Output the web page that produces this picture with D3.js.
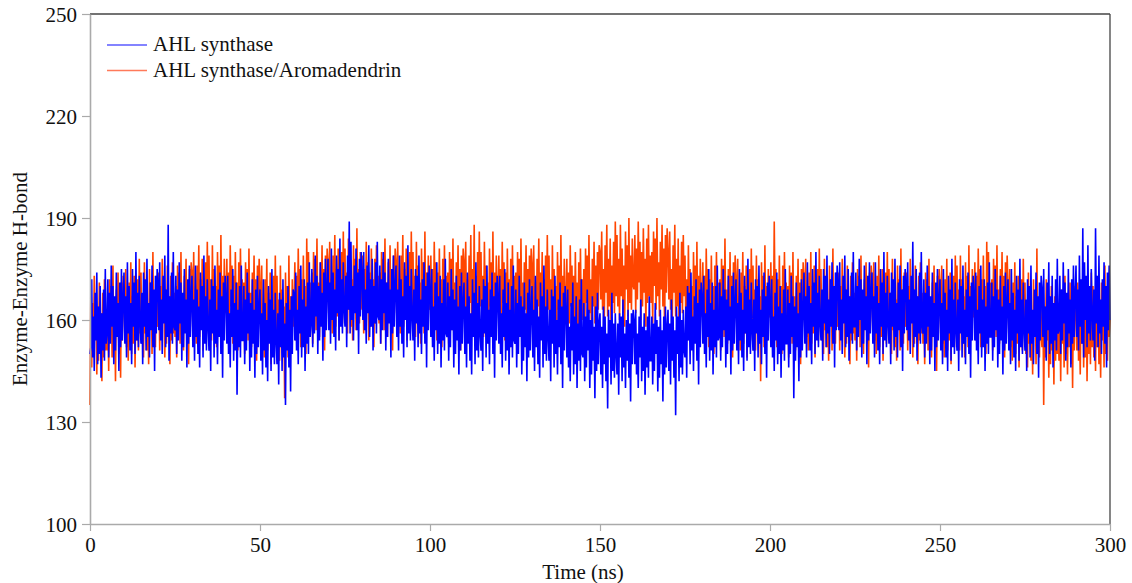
<!DOCTYPE html>
<html><head><meta charset="utf-8">
<script src="https://cdn.jsdelivr.net/npm/d3@7"></script>
<style>body{margin:0;background:#fff}svg{display:block}text{font-family:"Liberation Serif","Times New Roman",serif;fill:#111}</style>
</head><body><svg id="c" width="1132" height="583"></svg>
<script>
const seriesNames = ["AHL synthase", "AHL synthase/Aromadendrin"];
const timeStep = 0.25; // ns between samples
const xTicks = [0, 50, 100, 150, 200, 250, 300];
const yTicks = [100, 130, 160, 190, 220, 250];
const blueValues = [
150,152,172,149,161,145,168,154,174,147,164,150,170,143,162,151,169,148,175,153,
156,172,149,168,153,176,158,170,147,167,151,174,155,165,145,171,152,175,154,166,
174,153,167,149,177,156,170,151,165,147,175,158,171,150,180,154,168,152,173,159,
153,168,147,174,158,172,151,178,155,165,149,171,157,176,152,169,145,173,156,175,
171,157,177,154,166,150,173,159,179,152,169,155,188,148,167,156,174,153,180,158,
157,173,150,169,154,177,159,171,148,168,152,175,156,166,146,172,153,176,155,167,
173,152,166,148,176,155,169,150,164,146,174,157,170,149,179,153,167,151,172,158,
151,166,145,172,156,170,149,176,153,163,147,169,155,174,150,167,143,171,154,173,
167,153,173,150,162,146,169,155,175,148,165,151,171,138,163,152,170,149,176,154,
154,170,147,166,151,174,156,168,145,165,149,172,153,163,143,169,150,173,152,164,
169,148,162,144,172,151,165,146,160,142,170,153,166,145,175,149,163,147,168,154,
147,162,141,168,152,166,145,172,149,159,135,165,151,170,146,163,139,167,150,169,
168,154,174,151,163,147,170,156,176,149,166,152,172,145,164,153,171,150,177,155,
159,175,152,171,156,179,161,173,150,170,154,177,158,168,148,174,155,178,157,169,
178,157,171,153,181,160,174,155,169,151,179,162,175,154,184,158,172,156,177,163,
158,173,152,179,163,189,156,183,160,170,154,176,162,181,157,174,150,178,161,180,
174,160,180,157,169,153,176,162,182,155,172,158,178,151,170,159,177,156,183,161,
160,176,153,172,157,180,162,174,151,171,155,178,159,169,149,175,156,179,158,170,
176,155,169,151,179,158,172,153,167,149,177,160,173,152,182,156,170,154,175,161,
154,169,148,175,159,173,152,179,156,166,150,172,158,177,153,170,146,174,157,176,
169,155,175,152,164,148,171,157,177,150,167,153,173,146,165,154,172,151,178,156,
155,171,148,167,152,175,157,169,146,166,150,173,154,164,144,170,151,174,153,165,
171,150,164,146,174,153,167,148,162,144,172,155,168,147,177,151,165,149,170,156,
151,166,145,172,156,170,149,176,153,163,147,169,155,174,150,167,143,171,154,173,
167,153,173,150,162,146,169,155,175,148,165,151,171,144,163,152,170,149,176,154,
153,169,146,165,150,173,155,167,144,164,148,171,152,162,142,168,149,172,151,163,
170,149,163,145,173,152,166,147,161,143,171,154,167,146,176,150,164,148,169,155,
148,163,142,169,153,167,146,173,150,160,144,166,152,171,147,164,140,168,151,170,
163,149,169,146,158,142,165,151,171,144,161,147,167,140,159,148,166,145,172,150,
149,165,142,161,146,169,151,163,140,160,144,167,148,158,137,164,145,168,147,159,
162,144,158,140,164,147,161,142,156,134,163,149,160,141,168,145,159,143,162,150,
144,159,138,162,149,161,142,166,146,156,140,160,148,163,143,159,136,162,147,163,
160,147,163,144,156,140,161,149,166,142,158,145,162,138,157,146,161,143,167,148,
148,161,141,159,145,165,150,160,139,158,143,163,147,157,136,161,144,164,146,158,
163,145,159,141,166,148,161,143,157,132,164,150,161,142,168,146,160,144,163,151,
149,164,143,170,154,168,147,174,151,161,145,167,153,172,148,165,141,169,152,171,
167,153,173,150,162,146,169,155,175,148,165,151,171,144,163,152,170,149,176,154,
155,171,148,167,152,175,157,169,146,166,150,173,154,164,144,170,151,174,153,165,
172,151,165,147,175,154,168,149,163,145,173,156,169,148,178,152,166,150,171,157,
151,166,145,172,156,170,149,176,153,163,147,169,155,174,150,167,143,171,154,173,
166,152,172,149,161,145,168,154,174,147,164,150,170,143,162,151,169,148,175,153,
153,169,146,165,150,173,155,167,137,164,148,171,152,162,142,168,149,172,151,163,
174,153,167,149,177,156,170,151,165,147,175,158,171,150,180,154,168,152,173,159,
154,169,148,175,159,173,152,179,156,166,150,172,158,177,153,170,146,174,157,176,
171,157,177,154,166,150,173,159,179,152,169,155,175,148,167,156,174,153,180,158,
158,174,151,170,155,178,160,172,149,169,153,176,157,167,147,173,154,177,156,168,
174,153,167,149,177,156,170,151,165,147,175,158,171,150,180,154,168,152,173,159,
153,168,147,174,158,172,151,178,155,165,149,171,157,176,152,169,145,173,156,175,
171,157,177,154,166,150,173,159,183,152,169,155,175,148,167,156,174,153,180,158,
156,172,149,168,153,176,158,170,147,167,151,174,155,165,145,171,152,175,154,166,
172,151,165,147,175,154,168,149,163,145,173,156,169,148,178,152,166,150,171,157,
151,166,145,172,156,170,149,176,153,163,147,169,155,174,150,167,143,171,154,173,
168,154,174,151,163,147,170,156,176,149,166,152,172,145,164,153,171,150,177,155,
155,171,148,167,152,175,157,169,146,166,150,173,154,164,144,170,151,174,153,165,
172,151,165,147,175,154,168,149,163,145,173,156,169,148,178,152,166,150,171,157,
151,166,145,172,156,170,149,176,153,163,147,169,155,174,150,167,143,171,154,173,
169,155,175,152,164,148,171,157,177,150,167,153,173,146,165,154,172,151,178,156,
157,173,150,169,154,177,159,171,148,168,152,175,156,166,146,172,153,176,155,167,
176,155,169,151,179,158,172,153,187,149,177,160,173,152,182,156,170,154,175,161,
154,169,148,187,159,173,152,179,156,166,150,172,158,177,153,170,146,174,157,176,
160];
const orangeValues = [
135,169,146,165,150,173,155,167,144,164,148,171,152,162,142,168,149,172,151,163,
151,166,145,172,156,170,149,176,153,163,142,169,155,174,150,167,143,171,154,173,
169,155,175,152,164,148,171,157,177,150,167,153,173,146,165,154,172,151,178,156,
174,153,167,149,177,156,170,151,165,147,175,158,171,150,180,154,168,152,173,159,
158,174,151,170,155,178,160,172,149,169,153,176,157,167,147,173,154,177,156,168,
155,170,149,176,160,174,153,180,157,167,151,173,159,178,154,171,147,175,158,177,
174,160,180,157,169,153,176,162,182,155,172,158,178,151,170,159,177,156,183,161,
179,158,172,154,182,161,175,156,170,152,180,163,176,155,185,159,173,157,178,164,
162,178,155,174,159,182,164,176,153,173,157,180,161,171,151,177,158,181,160,172,
156,171,150,177,161,175,154,181,158,168,152,174,160,179,155,172,148,176,159,178,
170,156,176,153,165,149,172,158,178,151,168,154,174,147,166,155,173,152,179,157,
173,152,166,148,176,155,169,150,164,137,174,157,170,149,179,153,167,151,172,158,
161,177,154,173,158,181,163,175,152,172,156,179,160,170,150,184,157,180,159,171,
159,174,153,180,164,178,157,184,161,171,155,177,163,182,158,175,151,179,162,181,
177,163,183,160,172,156,179,165,185,158,175,161,181,154,173,162,180,159,186,164,
181,160,174,156,184,163,177,158,172,154,182,165,178,157,187,161,175,159,180,166,
163,179,156,175,160,183,165,177,154,174,158,181,162,172,152,178,159,182,161,173,
159,174,153,180,164,178,157,184,161,171,155,177,163,182,158,175,151,179,162,181,
177,163,183,160,172,156,179,165,185,158,175,161,181,154,173,162,180,159,186,164,
180,159,173,155,183,162,176,157,171,153,181,164,177,156,186,160,174,158,179,165,
163,179,156,175,160,183,165,177,154,174,158,181,162,172,152,178,159,182,161,173,
159,174,153,180,164,178,157,184,161,171,155,177,163,182,158,175,151,179,162,181,
177,163,183,160,172,156,179,165,185,158,175,161,188,154,173,162,180,159,186,164,
180,159,173,155,183,162,176,157,171,153,181,164,177,156,186,160,174,158,179,165,
163,179,156,175,160,183,165,177,154,174,158,181,162,172,152,178,159,182,161,173,
159,174,153,180,164,178,157,184,161,171,155,177,163,182,158,175,151,179,162,181,
176,162,182,159,171,155,178,164,184,157,174,160,180,153,172,161,179,158,185,163,
179,158,172,154,182,161,175,156,170,152,180,163,176,155,185,159,173,157,178,164,
162,178,155,174,159,182,164,176,153,173,157,180,161,171,151,177,158,181,160,172,
160,175,154,181,165,179,158,185,162,172,156,178,164,183,159,176,152,180,163,182,
180,166,186,163,175,159,182,168,188,161,178,164,184,157,176,165,183,162,189,167,
185,164,178,160,188,167,181,162,176,158,186,169,182,161,190,165,179,163,184,170,
169,185,162,181,166,189,171,183,160,180,164,187,168,178,158,184,165,188,167,179,
165,180,159,186,170,184,163,190,167,177,161,183,169,188,164,181,157,185,168,187,
180,166,186,163,175,159,182,168,188,161,178,164,184,157,176,165,183,162,185,167,
179,158,172,154,182,161,175,156,170,152,180,163,176,155,183,159,173,157,178,164,
161,177,154,173,158,181,163,175,152,172,156,179,160,170,150,176,157,180,159,171,
157,172,151,178,162,176,155,184,159,169,153,175,161,180,156,173,149,177,160,179,
172,158,178,155,167,151,174,160,180,153,170,156,176,149,168,157,175,154,181,159,
176,155,169,151,179,158,172,153,167,142,177,160,173,152,182,156,170,154,175,161,
161,177,154,173,158,189,163,175,152,172,156,179,160,170,150,176,157,180,159,171,
155,170,149,176,160,174,153,180,157,167,151,173,159,178,154,171,147,175,158,177,
172,158,178,155,167,151,174,160,180,153,170,156,176,149,168,157,175,154,181,159,
175,154,168,150,178,157,171,152,166,148,176,159,172,151,181,155,169,153,174,160,
158,174,151,170,155,178,160,172,149,169,153,176,157,167,147,173,154,177,156,168,
154,169,148,175,159,173,152,179,156,166,150,172,158,177,153,170,146,174,157,176,
171,157,177,154,166,150,173,159,179,152,169,155,175,148,167,156,174,153,180,158,
175,154,168,150,178,157,171,152,166,148,176,159,172,151,181,155,169,153,174,160,
158,174,151,170,155,178,160,172,149,169,153,176,157,167,147,173,154,177,156,168,
153,168,147,174,158,172,151,178,155,165,149,171,157,176,152,169,145,173,156,175,
170,156,176,153,165,149,172,158,178,151,168,154,174,147,166,155,173,152,179,157,
176,155,169,151,179,158,172,153,167,149,177,160,173,152,182,156,170,154,175,161,
161,177,154,173,158,181,163,175,152,172,156,179,160,170,150,183,157,180,159,171,
157,172,151,178,162,176,155,182,159,169,153,175,161,180,156,173,149,177,160,179,
169,155,175,152,164,148,171,157,177,150,167,153,173,146,165,154,172,151,178,156,
171,150,164,146,174,153,167,148,162,144,172,155,168,147,181,151,165,149,170,156,
152,168,135,164,149,172,154,166,143,163,147,170,151,161,141,167,148,171,150,162,
148,163,142,169,153,167,146,173,150,160,144,166,152,171,147,164,140,168,151,170,
165,151,171,148,160,144,167,153,173,146,163,149,169,142,161,150,168,147,174,152,
170,149,163,145,173,152,166,147,161,143,171,154,167,146,176,150,164,148,169,155,
160];
const colors = ["#0000ff", "#ff4500"];
const legendColors = ["#5a5aff", "#ff7a5a"];

const svg = d3.select("#c");
const L = 90, R = 1110, T = 14, B = 524;
const x = d3.scaleLinear().domain([0, 300]).range([L, R]);
const y = d3.scaleLinear().domain([100, 250]).range([B, T]);

const line = d3.line().x((d, i) => x(i * timeStep)).y(d => y(d));
svg.append("path").datum(orangeValues).attr("d", line)
  .attr("fill", "none").attr("stroke", colors[1]).attr("stroke-width", 1.6);
svg.append("path").datum(blueValues).attr("d", line)
  .attr("fill", "none").attr("stroke", colors[0]).attr("stroke-width", 1.6);

// frame top/right
svg.append("line").attr("x1", L).attr("x2", R).attr("y1", T).attr("y2", T).attr("stroke", "#444").attr("stroke-width", 1.3);
svg.append("line").attr("x1", R).attr("x2", R).attr("y1", T).attr("y2", B).attr("stroke", "#444").attr("stroke-width", 1.3);

const xAxis = svg.append("g").attr("transform", `translate(0,${B})`)
  .call(d3.axisBottom(x).tickValues(xTicks).tickSize(7).tickSizeOuter(0).tickPadding(3));
const yAxis = svg.append("g").attr("transform", `translate(${L},0)`)
  .call(d3.axisLeft(y).tickValues(yTicks).tickSize(8).tickSizeOuter(0).tickPadding(5));
[xAxis, yAxis].forEach(g => {
  g.select(".domain").attr("stroke", "#aaa").attr("stroke-width", 1.6);
  g.selectAll(".tick line").attr("stroke", "#aaa").attr("stroke-width", 1.2);
  g.selectAll(".tick text").attr("font-family", "Liberation Serif").attr("font-size", 21).attr("fill", "#111");
});
xAxis.selectAll(".tick text").attr("dy", "0.85em");
yAxis.selectAll(".tick text").attr("dy", "0.35em");

svg.append("text").attr("x", (L + R) / 2 - 17).attr("y", 579).attr("text-anchor", "middle")
  .attr("font-size", 21).text("Time (ns)");
svg.append("text").attr("transform", `translate(27,279) rotate(-90)`).attr("text-anchor", "middle")
  .attr("font-size", 21).text("Enzyme-Enzyme H-bond");

// legend
const lg = svg.append("g");
seriesNames.forEach((n, i) => {
  const yy = 45 + i * 25.5;
  lg.append("line").attr("x1", 107).attr("x2", 147).attr("y1", yy).attr("y2", yy)
    .attr("stroke", legendColors[i]).attr("stroke-width", 1.6);
  lg.append("text").attr("x", 153).attr("y", yy + 6).attr("font-size", 21).text(n);
});
</script></body></html>
